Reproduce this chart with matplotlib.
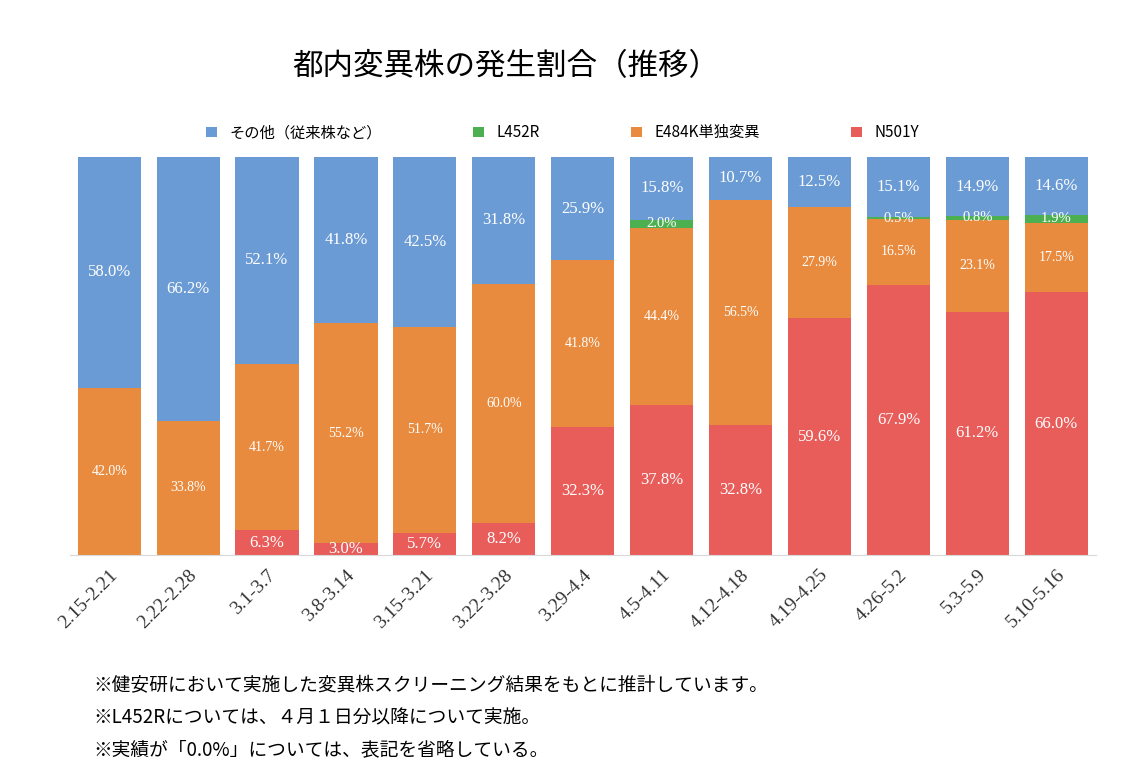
import matplotlib
matplotlib.use('Agg')
import matplotlib.pyplot as plt
import numpy as np

plt.rcParams['font.family'] = ['Noto Sans CJK JP', 'DejaVu Sans']

periods = ['2.15-2.21', '2.22-2.28', '3.1-3.7', '3.8-3.14', '3.15-3.21', '3.22-3.28',
           '3.29-4.4', '4.5-4.11', '4.12-4.18', '4.19-4.25', '4.26-5.2', '5.3-5.9', '5.10-5.16']
n501y = [0, 0, 6.3, 3.0, 5.7, 8.2, 32.3, 37.8, 32.8, 59.6, 67.9, 61.2, 66.0]
e484k = [42.0, 33.8, 41.7, 55.2, 51.7, 60.0, 41.8, 44.4, 56.5, 27.9, 16.5, 23.1, 17.5]
l452r = [0, 0, 0, 0, 0, 0, 0, 2.0, 0, 0, 0.5, 0.8, 1.9]
other = [58.0, 66.2, 52.1, 41.8, 42.5, 31.8, 25.9, 15.8, 10.7, 12.5, 15.1, 14.9, 14.6]

c_red, c_org, c_grn, c_blu = '#E85C5A', '#E98B3E', '#4CAF50', '#6B9BD4'

fig = plt.figure(figsize=(11.25, 7.81), dpi=100)
ax = fig.add_axes([0.062, 0.289, 0.912, 0.51])
x = np.arange(len(periods))
w = 0.8
series = [(n501y, c_red, 'N501Y', 12), (e484k, c_org, 'E484K単独変異', 10),
          (l452r, c_grn, 'L452R', 10.5), (other, c_blu, 'その他（従来株など）', 12)]
bottom = np.zeros(len(periods))
handles = {}
for vals, col, name, fs in series:
    vals = np.array(vals)
    b = ax.bar(x, vals, w, bottom=bottom, color=col)
    handles[name] = b
    for i, v in enumerate(vals):
        if v > 0:
            ax.text(x[i], bottom[i] + v / 2, f'{v:.1f}%', ha='center', va='center',
                    color='white', fontsize=fs, family='Liberation Serif')
    bottom += vals

ax.set_xlim(-0.5, len(periods) - 0.5)
ax.set_ylim(0, 100)
ax.set_yticks([])
ax.set_xticks(x)
ax.set_xticklabels(periods, rotation=45, ha='right', rotation_mode='anchor',
                   fontsize=14, family='Liberation Serif', color='#333333')
ax.tick_params(axis='x', length=0, pad=8)
for s in ['top', 'right', 'left']:
    ax.spines[s].set_visible(False)
ax.spines['bottom'].set_color('#d9d9d9')

order = ['その他（従来株など）', 'L452R', 'E484K単独変異', 'N501Y']
fig.legend([handles[k] for k in order], order, loc='center', ncol=4,
           bbox_to_anchor=(0.5, 0.83), frameon=False, fontsize=11,
           handlelength=0.7, handleheight=0.7, columnspacing=6)
fig.text(0.45, 0.915, '都内変異株の発生割合（推移）', ha='center', va='center', fontsize=22)

notes = ['※健安研において実施した変異株スクリーニング結果をもとに推計しています。',
         '※L452Rについては、４月１日分以降について実施。',
         '※実績が「0.0%」については、表記を省略している。']
for i, n in enumerate(notes):
    fig.text(0.083, 0.122 - i * 0.041, n, fontsize=13.5, va='center')

fig.savefig('out.png', dpi=100)
